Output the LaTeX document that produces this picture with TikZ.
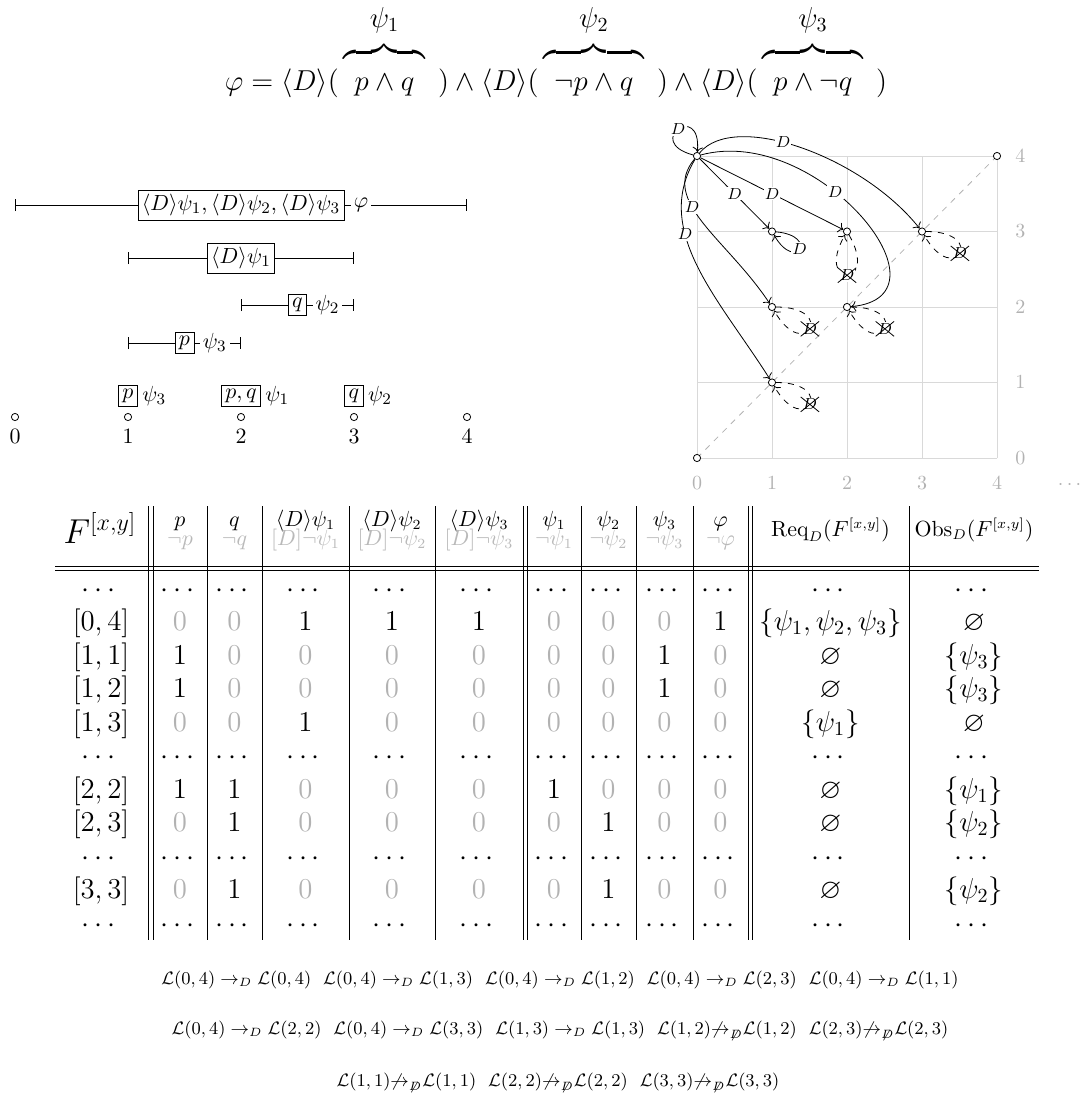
\documentclass[tikz,border=0pt]{standalone}
\usepackage{amsmath,amssymb}
\usetikzlibrary{arrows.meta,shapes.misc,positioning}

\newcommand{\rD}{\mathrel{\rightarrow_D}}
\newcommand{\nrD}{{\not\rightarrow}_{\not D}}
\newcommand{\brpart}[2]{\overbrace{\rule{0pt}{15pt}\hspace{5.5pt}#1\hspace{5.5pt}}^{\textstyle#2\rule[-7pt]{0pt}{0pt}}}
% one row of the table: row, interval, values, Req, Obs
\newcommand{\tabrow}[5]{%
  \pgfmathsetmacro{\ry}{597+33.5*#1}
  \node[cell] (r#1c0) at (101,\ry) {$#2$};
  \foreach \v [count=\i] in {#3} {
    \pgfmathsetmacro{\cx}{{180,234.5,305.5,392,479,554,608.5,664.5,720.5}[\i-1]}
    \node[cell,val\v] (r#1c\i) at (\cx,\ry) {$\v$};
  }
  \node[cell] (r#1c10) at (830.5,\ry) {$#4$};
  \node[cell] (r#1c11) at (974,\ry) {$#5$};
}
\newcommand{\dotrow}[1]{%
  \pgfmathsetmacro{\ry}{597+33.5*#1}
  \foreach \cx [count=\i from 0] in {101,180,234.5,305.5,392,479,554,608.5,664.5,720.5,830.5,974}
    \node[cell] (r#1c\i) at (\cx,\ry) {$\cdots$};
}

\tikzset{
  ivline/.style={{Bar[width=6pt]}-{Bar[width=6pt]}},
  ivbox/.style={draw,fill=white,inner sep=2pt,font=\fontsize{11}{13}\selectfont},
  ivlab/.style={fill=white,inner sep=1.5pt,font=\fontsize{11}{13}\selectfont},
  ivnum/.style={inner sep=1pt,font=\fontsize{11}{13}\selectfont},
  ivpoint/.style={circle,draw,fill=white,inner sep=0pt,minimum size=3.6pt},
  gnode/.style={circle,draw,fill=white,inner sep=0pt,minimum size=3.6pt},
  gridline/.style={gray!30},
  diag/.style={gray!60,dashed},
  axlab/.style={text=gray!60,font=\fontsize{10}{12}\selectfont},
  garrow/.style={->},
  nloop/.style={->,dashed},
  glab/.style={fill=white,inner sep=0.6pt,font=\footnotesize},
  xmark/.style={cross out,draw,inner sep=0.8pt,font=\footnotesize},
  cell/.style={anchor=base,inner sep=0pt,font=\fontsize{14}{17}\selectfont},
  hcell/.style={inner sep=0pt,font=\fontsize{10.5}{12.5}\selectfont},
  val0/.style={text=gray!60},
  val1/.style={},
  rule/.style={line width=0.4pt},
  rel/.style={font=\fontsize{9.2}{11}\selectfont}
}

\begin{document}
\begin{tikzpicture}[x=0.5pt,y=-0.5pt]
\useasboundingbox (0,0) rectangle (1085,1119);

% the formula
\node[anchor=base,font=\fontsize{14}{17}\selectfont] (formula) at (556,90)
  {$\displaystyle \varphi = \langle D\rangle(\,\brpart{p\wedge q}{\psi_1}\;\,)
  \wedge\langle D\rangle(\,\brpart{\neg p\wedge q}{\psi_2}\;\,)
  \wedge\langle D\rangle(\,\brpart{p\wedge\neg q}{\psi_3}\;\,)$};

% intervals
\begin{scope}[shift={(15,0)},x=56.5pt]
\draw[ivline] (0,205) -- (4,205);
\node[ivbox] (bphi) at (2,205) {$\langle D\rangle\psi_1, \langle D\rangle\psi_2, \langle D\rangle\psi_3$};
\node[ivlab,right=3pt of bphi] (lphi) {$\varphi$};
\draw[ivline] (1,258) -- (3,258);
\node[ivbox] (bd1) at (2,258) {$\langle D\rangle\psi_1$};
\draw[ivline] (2,305) -- (3,305);
\node[ivbox] (bq) at (2.5,305) {$q$};
\node[ivlab,right=2.5pt of bq] (lq) {$\psi_2$};
\draw[ivline] (1,343) -- (2,343);
\node[ivbox] (bp) at (1.5,343) {$p$};
\node[ivlab,right=2.5pt of bp] (lp) {$\psi_3$};
\foreach \i in {0,...,4} {
  \node[ivpoint] (p\i) at (\i,417) {};
  \node[ivnum,below=3pt of p\i] (n\i) {$\i$};
}
\node[ivbox,above=3pt of p1] (t1) {$p$};
\node[ivlab,right=0.5pt of t1] {$\psi_3$};
\node[ivbox,above=3pt of p2] (t2) {$p,q$};
\node[ivlab,right=0.5pt of t2] {$\psi_1$};
\node[ivbox,above=3pt of p3] (t3) {$q$};
\node[ivlab,right=0.5pt of t3] {$\psi_2$};
\end{scope}

% the graph of intervals
\begin{scope}[shift={(697,458)},x=37.5pt,y=37.75pt]
\draw[gridline,step=1] (0,0) grid (4,4);
\draw[diag] (0,0) -- (4,4);
\foreach \i in {0,...,4} {
  \node[axlab] (ax\i) at (\i,-0.33) {$\i$};
  \node[axlab] (ay\i) at (4.31,\i) {$\i$};
}
\node[axlab] (more) at (4.99,-0.36) {$\cdots$};
\foreach \x/\y in {0/4,1/3,2/3,3/3,1/2,2/2,1/1,0/0,4/4}
  \node[gnode] (v\x\y) at (\x,\y) {};
% D edges
\draw[garrow] (v04) to[out=165,in=85,distance=26pt] node[glab,midway] {$D$} (v04);
\draw[garrow] (v04) -- node[glab,midway] {$D$} (v13);
\draw[garrow] (v04) -- node[glab,midway] {$D$} (v23);
\draw[garrow] (v04) .. controls +(0.5,0.6) and +(-0.8,1.0) .. (v33) node[glab,pos=0.43] {$D$};
\draw[garrow] (v04) .. controls +(1.6,0.43) and +(1.5,0.14) .. (v22) node[glab,pos=0.4] {$D$};
\draw[garrow] (v04) .. controls +(-0.5,-0.6) and +(-0.6,0.9) .. (v12) node[glab,pos=0.38] {$D$};
\draw[garrow] (v04) .. controls +(-0.6,-1.0) and +(-0.7,1.1) .. (v11) node[glab,pos=0.35] {$D$};
\draw[garrow] (v13) to[out=-5,in=-60,distance=22pt] node[glab,midway] {$D$} (v13);
% not D loops
\draw[nloop] (v23) to[out=-60,in=-120,distance=31pt] node[glab,midway] (nd23) {$D$} (v23);
\foreach \n in {33,12,22,11}
  \draw[nloop] (v\n) to[out=0,in=-60,distance=31pt] node[glab,midway] (nd\n) {$D$} (v\n);
\foreach \n in {23,33,12,22,11}
  \node[xmark] at (nd\n) {\phantom{$D$}};
\end{scope}

% the table
\draw[rule] (55,566) -- (1039,566) (55,570) -- (1039,570);
\foreach \x in {148,153,207,262,349,435,523,527,581,636,693,748,752,909}
  \draw[rule] (\x,506) -- (\x,940);
\node[font=\fontsize{18}{21}\selectfont,inner sep=0pt] (hF) at (100,528) {$F^{[x,y]}$};
\foreach \cx/\hA/\hB [count=\i] in {180/p/\neg p, 234.5/q/\neg q,
    305.5/\langle D\rangle\psi_1/[D]\neg\psi_1, 392/\langle D\rangle\psi_2/[D]\neg\psi_2,
    479/\langle D\rangle\psi_3/[D]\neg\psi_3, 554/\psi_1/\neg\psi_1, 608.5/\psi_2/\neg\psi_2,
    664.5/\psi_3/\neg\psi_3, 720.5/\varphi/\neg\varphi} {
  \node[hcell,anchor=base] (h\i) at (\cx,526) {$\hA$};
  \node[hcell,anchor=base,text=gray!55] (hn\i) at (\cx,545) {$\hB$};
}
\node[hcell] (hreq) at (830.5,530) {$\mathrm{Req}_D(F^{[x,y]})$};
\node[hcell] (hobs) at (974,530) {$\mathrm{Obs}_D(F^{[x,y]})$};
\dotrow{0}
\tabrow{1}{[0,4]}{0,0,1,1,1,0,0,0,1}{\{\psi_1,\psi_2,\psi_3\}}{\varnothing}
\tabrow{2}{[1,1]}{1,0,0,0,0,0,0,1,0}{\varnothing}{\{\psi_3\}}
\tabrow{3}{[1,2]}{1,0,0,0,0,0,0,1,0}{\varnothing}{\{\psi_3\}}
\tabrow{4}{[1,3]}{0,0,1,0,0,0,0,0,0}{\{\psi_1\}}{\varnothing}
\dotrow{5}
\tabrow{6}{[2,2]}{1,1,0,0,0,1,0,0,0}{\varnothing}{\{\psi_1\}}
\tabrow{7}{[2,3]}{0,1,0,0,0,0,1,0,0}{\varnothing}{\{\psi_2\}}
\dotrow{8}
\tabrow{9}{[3,3]}{0,1,0,0,0,0,1,0,0}{\varnothing}{\{\psi_2\}}
\dotrow{10}

% the relations
\node[rel] (rel1) at (560,980) {$\mathcal{L}(0,4)\rD\mathcal{L}(0,4)\hspace{6pt} \mathcal{L}(0,4)\rD\mathcal{L}(1,3)\hspace{6pt}
  \mathcal{L}(0,4)\rD\mathcal{L}(1,2)\hspace{6pt} \mathcal{L}(0,4)\rD\mathcal{L}(2,3)\hspace{6pt} \mathcal{L}(0,4)\rD\mathcal{L}(1,1)$};
\node[rel] (rel2) at (560,1031) {$\mathcal{L}(0,4)\rD\mathcal{L}(2,2)\hspace{6pt} \mathcal{L}(0,4)\rD\mathcal{L}(3,3)\hspace{6pt}
  \mathcal{L}(1,3)\rD\mathcal{L}(1,3)\hspace{6pt} \mathcal{L}(1,2)\nrD\mathcal{L}(1,2)\hspace{6pt} \mathcal{L}(2,3)\nrD\mathcal{L}(2,3)$};
\node[rel] (rel3) at (558,1083) {$\mathcal{L}(1,1)\nrD\mathcal{L}(1,1)\hspace{6pt} \mathcal{L}(2,2)\nrD\mathcal{L}(2,2)\hspace{6pt}
  \mathcal{L}(3,3)\nrD\mathcal{L}(3,3)$};
\end{tikzpicture}
\end{document}
